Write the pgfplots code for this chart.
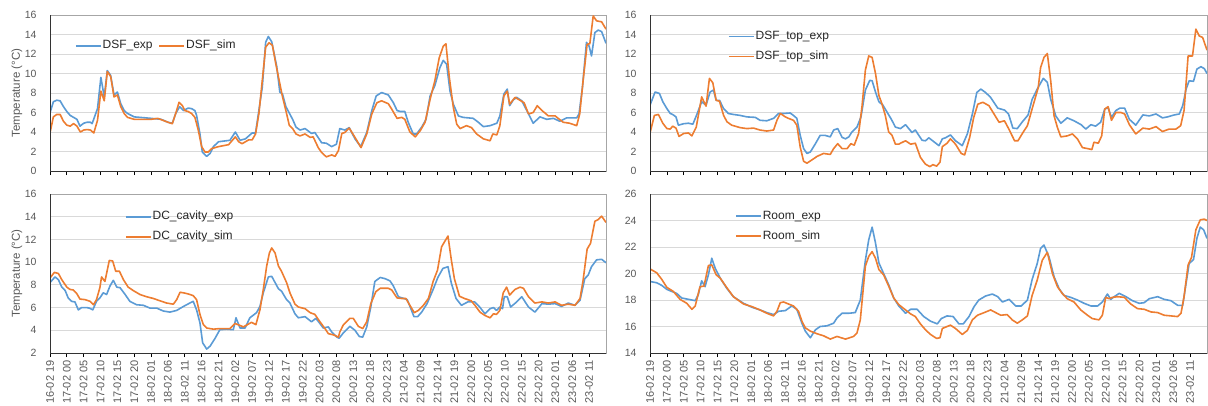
\documentclass[border=0pt]{standalone}
\usepackage{fontspec}
\setmainfont{Liberation Sans}
\usepackage{pgfplots}
\pgfplotsset{compat=1.18}
\definecolor{xblue}{HTML}{5B9BD5}
\definecolor{xorange}{HTML}{ED7D31}
\definecolor{xgrid}{HTML}{D9D9D9}
\definecolor{xtext}{HTML}{595959}
\definecolor{xframe}{HTML}{A6A6A6}
\pgfplotsset{
  panel/.style={
    scale only axis, anchor=south west,
    xmin=0, xmax=165,
    xtick={0,5,...,160},
    ymajorgrids, grid style={xgrid, line width=0.8pt},
    axis line style={xframe, line width=0.8pt},
    tick align=outside, xtick pos=bottom, ytick pos=left,
    major tick length=4pt,
    xtick style={black, line width=0.7pt},
    ytick style={draw=none},
    tick label style={font=\fontsize{10.5}{12}\selectfont, text=xtext},
    /pgf/number format/assume math mode=true,
    yticklabel style={xshift=-6pt},
    xticklabel style={rotate=90, anchor=east, font=\fontsize{11}{12}\selectfont},
    legend style={draw=none, fill=none, inner sep=0pt, outer sep=0pt,
      font=\fontsize{12}{14}\selectfont, text=black!85,
      nodes={inner sep=1pt, text height=8.5pt, text depth=2.5pt, anchor=west},
      row sep=7pt,
      /tikz/every even column/.append style={column sep=5pt}},
    legend image code/.code={\draw[#1] (0pt,0pt) -- (25pt,0pt);},
    every axis plot/.append style={line width=1.6pt, line join=round},
    extra description/.code={\draw[black!80, line width=0.8pt] (axis description cs:0,1) -- (axis description cs:0,0) -- (axis description cs:1,0);},
  },
  ylab/.style={ylabel={Temperature (°C)},
    every axis y label/.style={at={(axis description cs:-0.0594,0.5)}, rotate=90, anchor=center, font=\fontsize{11.5}{13}\selectfont, text=xtext}},
  datelabels/.style={xticklabels={16-02 19,17-02 00,17-02 05,17-02 10,17-02 15,17-02 20,18-02 01,18-02 06,18-02 11,18-02 16,18-02 21,19-02 02,19-02 07,19-02 12,19-02 17,19-02 22,20-02 03,20-02 08,20-02 13,20-02 18,20-02 23,21-02 04,21-02 09,21-02 14,21-02 19,22-02 00,22-02 05,22-02 10,22-02 15,22-02 20,23-02 01,23-02 06,23-02 11}},
}
\begin{document}
\begin{tikzpicture}
\useasboundingbox (0,0) rectangle (1208pt,405pt);
% ---------------- top left
\begin{axis}[panel, ylab, at={(50pt,234pt)}, width=556pt, height=156pt,
  ymin=0, ymax=16, ytick={0,2,...,16}, xticklabels={},
  legend columns=2, legend style={at={(0.045,0.803)}, anchor=west}]
\addplot[xblue] coordinates {(0,5.96) (1,7.1) (2,7.26) (3,7.2) (4,6.6) (5,6.1) (6,5.7) (7,5.5) (8,5.3) (8.9,4.6) (10,4.9) (11,5.0) (12,5.0) (12.5,4.86) (14.1,6.4) (15.1,9.6) (16.1,7.6) (17,10.3) (18,9.8) (19,7.8) (20,8.1) (21,6.9) (22,6.2) (23,5.9) (25,5.55) (30,5.4) (33,5.3) (35,5.0) (36.3,4.9) (37.3,5.9) (38.5,6.6) (39.6,6.2) (41,6.45) (42,6.4) (43,6.2) (43.5,5.7) (44.5,3.8) (45.2,1.95) (46.5,1.5) (47.5,1.8) (48.5,2.5) (50,3.0) (53.4,3.15) (55,4.0) (56.4,3.15) (58,3.3) (60,3.9) (61,3.9) (63,8.6) (64,13.2) (64.8,13.8) (65.8,13.25) (67.3,10.7) (68.2,8.1) (69,7.9) (70,6.6) (72,5.3) (73,4.5) (74.2,4.2) (75.7,4.35) (77.6,3.85) (78.6,3.95) (80.6,2.9) (82,2.85) (83.6,2.5) (85,2.75) (86,4.35) (87.5,4.2) (88.8,4.45) (90.5,3.3) (92.2,2.5) (94,3.95) (95.5,6.2) (96.8,7.7) (98.4,8.05) (100.4,7.8) (101.9,7.0) (103,6.2) (104,6.1) (105.3,6.1) (106.3,5.0) (107.8,3.8) (108.8,3.8) (110.3,4.5) (111.6,5.3) (112.8,7.7) (114.2,8.75) (115.7,10.6) (116.7,11.35) (117.7,10.95) (118.7,8.2) (119.7,6.85) (121.2,5.65) (122.6,5.5) (125.6,5.4) (127.1,5.0) (128.6,4.55) (130.6,4.65) (132.6,4.9) (133.5,5.65) (134.7,7.9) (135.7,8.4) (136.4,6.7) (137.5,7.3) (138.5,7.55) (140,7.2) (141.5,6.2) (143.4,4.9) (145.4,5.55) (147.4,5.3) (149.4,5.4) (151.3,5.1) (153.3,5.45) (156.3,5.45) (157,5.85) (158,8.55) (159.2,13.2) (160,12.8) (160.7,11.8) (161.7,14.2) (162.7,14.45) (163.7,14.3) (165,13.1)};
\addlegendentry{DSF\_exp}
\addplot[xorange] coordinates {(0,3.9) (1,5.55) (2,5.8) (3,5.8) (4,5.1) (5,4.7) (6,4.6) (7,4.86) (8,4.6) (9,4.0) (10,4.2) (11,4.25) (12,4.2) (13,3.9) (14.1,5.2) (15.1,8.2) (16.1,7.2) (17,10.2) (18,9.7) (19,7.6) (20,7.8) (21,6.6) (22,5.9) (23,5.5) (25,5.3) (30,5.3) (32,5.4) (35,5.0) (36.3,4.85) (37.3,5.9) (38.3,7.05) (39.3,6.7) (40,6.2) (41,6.1) (42,5.9) (43,5.5) (44,4.2) (45,2.5) (46,1.95) (47,1.95) (48,2.3) (50,2.5) (53,2.7) (55,3.5) (56,3.0) (57,2.8) (59,3.2) (60,3.2) (61,3.8) (62,5.9) (63,9.3) (64,12.7) (65,13.15) (66,12.9) (67,11.0) (68,9.3) (69,7.6) (70,6.2) (71,4.7) (72,4.35) (73,3.8) (74.2,3.6) (75.7,3.8) (77.2,3.45) (78.1,3.5) (79.6,2.4) (80.6,1.9) (82,1.45) (83.6,1.65) (84.6,1.5) (85.6,2.1) (86.6,3.85) (87.5,3.95) (88.8,4.4) (90.5,3.45) (92.3,2.4) (94,3.8) (95.5,5.85) (97,7.0) (98.4,7.2) (100.4,6.9) (101.4,6.35) (103,5.4) (104.4,5.5) (105.3,5.3) (106.8,4.0) (108.4,3.5) (109.9,4.15) (111.3,5.0) (112.8,7.35) (114.2,9.25) (115.5,11.6) (116.7,12.8) (117.5,13.05) (118.5,9.6) (119.7,6.5) (120.7,4.8) (121.7,4.35) (123.6,4.65) (125.1,4.45) (126.6,3.8) (128.6,3.3) (130.6,3.1) (131.4,3.8) (132.6,3.7) (133.5,4.65) (134.7,7.7) (135.7,8.2) (136.4,6.85) (138,7.55) (139.5,7.25) (140.7,7.0) (142,5.85) (143.4,6.0) (144.6,6.7) (146,6.2) (147.9,5.65) (149.9,5.65) (150.8,5.4) (152.3,5.0) (154.2,4.9) (156.3,4.65) (157.2,5.85) (158.2,9.25) (159.4,13.0) (160.2,13.05) (161.2,15.9) (162.2,15.4) (163.7,15.3) (165,14.55)};
\addlegendentry{DSF\_sim}
\end{axis}
% ---------------- top right
\begin{axis}[panel, at={(650pt,234pt)}, width=557pt, height=156pt,
  ymin=0, ymax=16, ytick={0,2,...,16}, xticklabels={},
  legend style={at={(0.14,0.797)}, anchor=west}]
\addplot[xblue] coordinates {(0,6.75) (1.5,8.1) (2.8,7.95) (3.8,7.1) (5,6.4) (6,5.9) (6.7,5.8) (7.7,5.55) (8.4,4.7) (10,4.85) (11.4,4.9) (12.7,4.8) (14,5.9) (15.3,7.1) (16.6,6.75) (17.8,8.1) (18.8,8.3) (19.6,7.25) (20.6,7.25) (21.8,6.4) (23.2,5.9) (24.7,5.8) (26.7,5.7) (28.7,5.55) (31.2,5.5) (32.6,5.2) (34.6,5.15) (36.6,5.4) (38.1,5.9) (39.6,5.9) (41.5,5.95) (42.5,5.7) (43.5,5.4) (44.5,3.65) (45.5,2.3) (46.5,1.8) (47.5,1.95) (49,2.8) (50.4,3.65) (51.9,3.65) (53.4,3.5) (54.4,4.2) (55.6,4.35) (56.9,3.45) (57.9,3.3) (58.9,3.5) (59.8,4.0) (61.3,4.5) (62.5,5.55) (63.8,8.3) (65.1,9.3) (65.8,9.25) (66.8,8.1) (67.8,7.1) (69,6.75) (70.2,6.05) (71.5,5.3) (72.7,4.5) (73.7,4.4) (74.2,4.35) (75.7,4.75) (77.6,3.95) (78.6,4.2) (80.6,3.15) (81.6,3.1) (82.6,3.4) (85.6,2.6) (86.6,3.3) (87.5,3.4) (89,3.7) (90.5,3.1) (92.5,2.6) (94,3.8) (95.5,5.85) (96.8,8.05) (98,8.4) (99.4,8.05) (100.9,7.55) (103,6.45) (105,6.25) (106.2,5.85) (107.5,4.4) (108.8,4.35) (110.2,5.0) (112,5.75) (113.2,7.35) (114.7,8.4) (116.5,9.5) (117.7,9.1) (118.7,7.35) (120.2,5.65) (121.7,4.9) (123.6,5.45) (125.6,5.15) (127.7,4.75) (129.1,4.3) (130.6,4.75) (132,4.6) (133.5,5.0) (134.7,6.35) (135.7,6.5) (136.7,5.5) (138,6.2) (139.2,6.45) (140.6,6.45) (142,5.3) (143.9,4.7) (146,5.75) (147.9,5.65) (149.9,5.85) (151.8,5.45) (153.3,5.55) (155.3,5.75) (156.8,5.85) (157.8,6.7) (158.8,8.4) (159.7,9.25) (161,9.2) (162,10.45) (163.2,10.7) (164.2,10.5) (165,10.0)};
\addlegendentry{DSF\_top\_exp}
\addplot[xorange] coordinates {(0,3.9) (1.3,5.7) (2.5,5.8) (3.8,4.9) (5,4.35) (6,4.3) (6.7,4.6) (7.7,4.4) (8.6,3.55) (10,3.85) (11.4,3.9) (12.4,3.6) (13.7,4.5) (15.3,7.6) (16.6,6.65) (17.6,9.5) (18.6,9.05) (19.6,7.25) (20.6,7.15) (21.8,5.7) (22.8,5.05) (24.2,4.7) (26.7,4.45) (28.7,4.35) (30.7,4.4) (32.6,4.2) (34.6,4.1) (36.6,4.2) (37.6,5.2) (38.6,5.9) (40.1,5.55) (41,5.4) (42.5,5.2) (43.5,4.7) (44.5,2.45) (45.5,1.0) (46.5,0.8) (48,1.15) (49.5,1.5) (51.4,1.8) (53.4,1.7) (54.4,2.3) (55.6,2.8) (56.9,2.3) (58.4,2.3) (59.5,2.8) (60.5,2.65) (61.8,3.85) (62.8,6.6) (63.8,10.35) (64.8,11.8) (65.8,11.65) (66.8,10.0) (67.8,7.75) (68.7,6.9) (69.7,5.7) (70.7,4.0) (71.7,3.65) (72.7,2.75) (73.7,2.75) (74.2,2.85) (75.7,3.1) (77.2,2.75) (78.6,2.85) (80.1,1.4) (81.6,0.7) (82.9,0.45) (83.8,0.65) (84.9,0.5) (85.9,0.9) (86.6,2.5) (88,2.85) (89,3.3) (90.5,2.75) (92.2,1.8) (93.2,1.65) (94.7,3.45) (95.9,5.5) (97.1,6.85) (98.6,7.05) (100.4,6.7) (101.9,5.85) (103.4,5.0) (105,5.15) (106.3,4.3) (108,3.1) (109,3.1) (110.3,3.85) (111.8,4.65) (113.3,6.5) (115,8.55) (115.7,10.6) (116.7,11.65) (117.7,12.05) (118.7,9.25) (119.7,5.65) (120.7,4.45) (121.7,3.5) (123.6,3.6) (125.1,3.8) (126.6,3.3) (128.1,2.4) (129.6,2.3) (130.9,2.2) (131.5,2.95) (132.8,2.85) (133.8,3.6) (134.7,6.35) (135.7,6.6) (136.7,5.2) (138,6.0) (139.5,6.0) (140.6,5.85) (142,4.75) (143.9,3.8) (146,4.4) (147.9,4.3) (149.9,4.55) (151.8,4.05) (153.8,4.3) (155.8,4.3) (157.2,4.65) (158.2,6.2) (159.4,11.8) (160.7,11.8) (161.7,14.55) (162.7,13.85) (163.7,13.7) (165,12.4)};
\addlegendentry{DSF\_top\_sim}
\end{axis}
% ---------------- bottom left
\begin{axis}[panel, ylab, datelabels, at={(50pt,52pt)}, width=556pt, height=159pt,
  ymin=2, ymax=16, ytick={2,4,...,16},
  legend style={at={(0.135,0.794)}, anchor=west}]
\addplot[xblue] coordinates {(0,8.2) (1.5,8.7) (2.5,8.45) (3.5,7.8) (4.5,7.5) (5.4,6.85) (6.4,6.55) (7.4,6.5) (8.4,5.8) (9.4,6.0) (10.9,6.0) (11.7,5.95) (12.7,5.8) (13.8,6.55) (14.8,6.85) (15.8,7.3) (16.8,7.15) (17.8,7.9) (18.8,8.4) (19.8,7.8) (20.8,7.75) (22.3,7.15) (23.7,6.55) (25.7,6.25) (27.7,6.2) (29.7,5.95) (31.7,5.95) (33.6,5.7) (35.6,5.6) (37.6,5.75) (39.6,6.1) (41.5,6.4) (42.5,6.55) (43.5,5.8) (44.5,4.65) (45.3,2.9) (46.5,2.35) (47.5,2.6) (49,3.3) (50.4,4.05) (52.4,4.1) (54.4,4.05) (55.2,5.1) (56.4,4.2) (57.9,4.2) (59.3,5.1) (61.3,5.55) (62.3,6.1) (63.3,7.3) (64.8,8.7) (65.8,8.75) (66.8,8.2) (67.8,7.65) (68.7,7.45) (70.2,6.7) (71.2,6.4) (72.7,5.45) (73.7,5.1) (75.7,5.2) (77.6,4.75) (78.9,5.05) (80.1,4.6) (81.1,4.2) (82.6,4.3) (83.6,3.85) (85.1,3.4) (85.8,3.3) (87,3.75) (89,4.35) (90.5,4.0) (91.8,3.45) (92.8,3.4) (94,4.3) (95.2,6.05) (96.4,8.3) (98,8.65) (99.4,8.55) (100.9,8.35) (101.9,7.9) (103.4,6.95) (105,6.8) (106,6.7) (107.1,5.9) (108,5.2) (109.1,5.2) (110.3,5.6) (111.9,6.35) (113.7,7.6) (115.1,8.65) (116.6,9.45) (118.1,9.6) (119.1,8.15) (120.5,6.8) (122.1,6.2) (124,6.5) (126,6.5) (127.5,6.05) (129.1,5.45) (130.6,5.9) (131.6,6.0) (132.5,5.75) (133.5,6.05) (134.3,5.9) (134.8,6.95) (135.7,6.95) (136.7,6.05) (138.5,6.5) (140,6.95) (142,6.05) (143.9,5.6) (146,6.35) (147.9,6.3) (149.9,6.35) (151.8,6.1) (153.8,6.4) (155.8,6.2) (157.3,6.65) (158.7,8.55) (159.7,8.85) (160.7,9.6) (162.2,10.2) (163.7,10.25) (165,9.95)};
\addlegendentry{DC\_cavity\_exp}
\addplot[xorange] coordinates {(0,8.6) (1.3,9.1) (2.5,9.0) (3.5,8.45) (5,7.8) (5.9,7.6) (6.9,7.55) (7.9,7.25) (8.9,6.75) (10.4,6.7) (11.9,6.55) (12.9,6.25) (13.8,6.7) (14.8,7.75) (15.3,8.7) (16.3,8.3) (17.6,10.15) (18.6,10.1) (19.5,9.2) (20.6,9.2) (21.8,8.45) (23.2,7.8) (24.7,7.5) (26.7,7.15) (28.7,6.95) (30.7,6.8) (32.6,6.6) (34.6,6.4) (36.6,6.3) (37.6,6.7) (38.6,7.35) (39.6,7.3) (41,7.2) (42.5,7.05) (43.5,6.7) (44.5,5.4) (45.5,4.5) (46.5,4.2) (48.5,4.1) (50.4,4.15) (53.4,4.15) (54.9,4.6) (57.4,4.3) (59.8,4.7) (61.1,4.5) (62.3,5.8) (63.3,7.6) (64.3,9.65) (65.1,10.8) (65.8,11.25) (66.8,10.8) (67.8,9.65) (68.7,9.2) (70.2,8.2) (71.2,7.3) (72.7,6.3) (73.7,6.05) (75.7,5.9) (77.2,5.55) (78.6,5.4) (80.1,4.75) (81.6,4.15) (82.6,3.7) (84.1,3.6) (85.6,3.4) (86,3.85) (87,4.45) (89,5.05) (90,5.05) (91.5,4.35) (92.8,4.15) (94,4.75) (95.2,6.35) (96.7,7.4) (98,7.7) (100.4,7.7) (101.4,7.55) (103,6.85) (104.4,6.8) (105.6,6.8) (107.1,6.05) (108.1,5.55) (109.3,5.75) (110.8,6.2) (112.3,6.8) (113.7,8.3) (115,9.3) (116.2,11.35) (118.1,12.3) (119.1,10.2) (120,8.55) (121.5,7.0) (123,6.8) (125,6.6) (126.1,6.2) (127.6,5.6) (129.1,5.3) (130.6,5.1) (131.6,5.45) (132.5,5.4) (133.5,5.75) (134.5,7.3) (135.5,7.8) (136.4,7.1) (138,7.6) (139.5,7.8) (140.5,7.7) (142,6.95) (143.9,6.4) (146,6.5) (147.9,6.4) (149.9,6.5) (151.8,6.2) (153.8,6.3) (155.8,6.2) (157.3,6.8) (158.2,8.4) (159.4,11.15) (160.4,11.65) (161.7,13.6) (162.7,13.75) (163.7,14.05) (165,13.5)};
\addlegendentry{DC\_cavity\_sim}
\end{axis}
% ---------------- bottom right
\begin{axis}[panel, datelabels, at={(650pt,52pt)}, width=557pt, height=159pt,
  ymin=14, ymax=26, ytick={14,16,...,26},
  legend style={at={(0.153,0.797)}, anchor=west}]
\addplot[xblue] coordinates {(0,19.4) (2,19.3) (3.5,19.1) (5,18.8) (6.4,18.65) (7.9,18.5) (9.4,18.15) (11.4,18.05) (13.4,17.95) (14.3,18.4) (15.3,19.45) (16.3,19.0) (17.3,19.9) (18.3,21.15) (19.3,20.4) (20.8,19.65) (22.7,18.9) (24.7,18.25) (27.7,17.75) (30.2,17.45) (32.6,17.25) (34.6,17.05) (36.6,16.9) (38.1,17.15) (40.1,17.2) (42,17.55) (43.5,17.3) (45,16.25) (46,15.65) (47.5,15.15) (49,15.75) (50.4,16.0) (52.4,16.05) (54.4,16.25) (55.4,16.65) (56.9,17.0) (58.9,17.0) (60.8,17.05) (62.3,18.0) (63.8,21.0) (64.8,22.55) (65.8,23.5) (66.8,22.3) (67.8,20.8) (69.2,20.0) (70.7,19.15) (72.2,18.15) (73.7,17.55) (75.7,17.0) (77.2,17.3) (79.1,17.3) (81.1,16.75) (83.1,16.4) (85.1,16.2) (86.3,16.6) (88,16.8) (89.8,16.75) (91.5,16.2) (92.8,16.2) (94.5,16.75) (96,17.5) (97.4,18.0) (99.4,18.3) (101.4,18.45) (103,18.25) (104.4,17.85) (106.4,18.05) (108.3,17.55) (110,17.55) (111.8,18.0) (113.2,19.55) (114.7,20.75) (115.7,21.9) (116.7,22.15) (118.2,21.25) (119.7,19.75) (121.2,18.85) (122.6,18.35) (124.6,18.2) (126.6,18.0) (128.6,17.75) (130.6,17.55) (132.6,17.55) (134,17.85) (135.5,18.45) (136.5,18.05) (137.5,18.25) (139,18.5) (141,18.25) (142.9,17.95) (144.9,17.75) (146.4,17.8) (147.9,18.1) (150.4,18.25) (152.3,18.05) (154.3,17.95) (156.3,17.6) (157.8,17.6) (158.8,19.25) (159.7,20.75) (161,21.05) (162,22.65) (163,23.5) (164,23.3) (165,22.65)};
\addlegendentry{Room\_exp}
\addplot[xorange] coordinates {(0,20.35) (2,20.05) (3.5,19.55) (5,18.95) (6.9,18.65) (8.9,18.05) (10.9,17.75) (12.4,17.3) (13.4,17.55) (14.8,19.0) (16,19.05) (17.3,20.6) (18.3,20.65) (19.6,19.9) (20.8,19.65) (22.7,18.95) (24.7,18.25) (27.7,17.7) (30.2,17.5) (32.6,17.25) (34.6,17.0) (36.6,16.8) (37.6,17.15) (38.6,17.8) (39.6,17.85) (41,17.7) (42.5,17.55) (44,17.15) (45,16.4) (46,15.9) (47.5,15.65) (49.5,15.45) (51.4,15.3) (53.4,15.05) (55.4,15.25) (57.9,15.05) (60.3,15.25) (61.3,15.5) (62.3,16.5) (63.8,20.55) (64.8,21.3) (65.8,21.65) (66.8,21.15) (67.8,20.3) (69.2,19.9) (70.7,19.05) (72.2,18.15) (73.7,17.65) (75.7,17.25) (77.2,16.95) (78.6,16.75) (80.1,16.2) (81.6,15.75) (83.1,15.4) (84.9,15.1) (85.9,15.15) (86.6,15.85) (88,16.0) (89,16.1) (90.5,15.85) (92.5,15.4) (94,15.7) (95.5,16.5) (97,16.85) (99,17.05) (100.9,17.25) (102.4,17.05) (103.9,16.85) (105.8,16.9) (107.3,16.5) (108.8,16.25) (110.3,16.5) (111.8,16.8) (113.2,18.35) (114.7,19.5) (116.2,21.0) (117.7,21.6) (119.2,20.0) (120.7,19.0) (122.1,18.5) (123.6,18.1) (125.6,17.85) (127.6,17.25) (129.6,16.85) (131,16.6) (133,16.5) (134,16.85) (135,18.2) (136,18.1) (137,18.2) (138.5,18.25) (140.5,18.2) (142.4,17.7) (144.4,17.35) (146.4,17.3) (148.4,17.1) (150.4,17.05) (152.3,16.85) (154.3,16.8) (156.3,16.75) (157.3,17.0) (158.2,18.25) (159.4,20.65) (160.4,21.2) (161.7,23.3) (163,24.05) (164.2,24.1) (165,24.0)};
\addlegendentry{Room\_sim}
\end{axis}
\end{tikzpicture}
\end{document}
